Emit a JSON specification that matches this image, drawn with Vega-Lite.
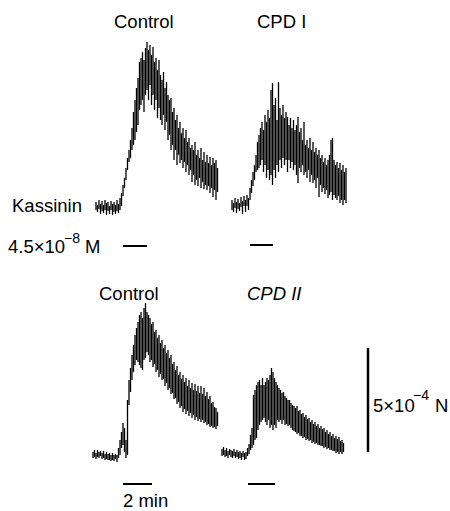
{
  "$schema": "https://vega.github.io/schema/vega-lite/v6.json",
  "width": 450,
  "height": 511,
  "autosize": {"type": "fit", "contains": "padding"},
  "padding": 0,
  "background": "white",
  "config": {"view": {"stroke": null}},
  "datasets": {
    "traces": [
      {"t":"A","x":96,"lo":202,"hi":210},{"t":"A","x":97.5,"lo":205,"hi":212},{"t":"A","x":99,"lo":200,"hi":209},{"t":"A","x":100.5,"lo":204,"hi":214},{"t":"A","x":102,"lo":201,"hi":211},{"t":"A","x":103.5,"lo":205,"hi":213},{"t":"A","x":105,"lo":200,"hi":210},{"t":"A","x":106.5,"lo":203,"hi":215},{"t":"A","x":108,"lo":202,"hi":211},{"t":"A","x":109.5,"lo":206,"hi":214},{"t":"A","x":111,"lo":201,"hi":210},{"t":"A","x":112.5,"lo":204,"hi":215},{"t":"A","x":114,"lo":202,"hi":212},{"t":"A","x":115.5,"lo":205,"hi":214},{"t":"A","x":117,"lo":200,"hi":211},{"t":"A","x":118.5,"lo":204,"hi":213},{"t":"A","x":120,"lo":198,"hi":210},{"t":"A","x":121.5,"lo":193,"hi":206},
      {"t":"A","x":123,"lo":185,"hi":196},{"t":"A","x":124.5,"lo":178,"hi":188},{"t":"A","x":126,"lo":168,"hi":180},{"t":"A","x":127.5,"lo":158,"hi":170},{"t":"A","x":129,"lo":150,"hi":162},{"t":"A","x":130.5,"lo":140,"hi":158},{"t":"A","x":132,"lo":128,"hi":150},{"t":"A","x":133.5,"lo":112,"hi":145},{"t":"A","x":135,"lo":100,"hi":140},{"t":"A","x":136.5,"lo":88,"hi":132},{"t":"A","x":138,"lo":78,"hi":125},{"t":"A","x":139.5,"lo":62,"hi":110},{"t":"A","x":141,"lo":58,"hi":105},{"t":"A","x":142.5,"lo":52,"hi":100},{"t":"A","x":144,"lo":60,"hi":112},{"t":"A","x":145.5,"lo":48,"hi":95},{"t":"A","x":147,"lo":42,"hi":90},{"t":"A","x":148.5,"lo":50,"hi":100},{"t":"A","x":150,"lo":45,"hi":85},{"t":"A","x":151.5,"lo":55,"hi":105},{"t":"A","x":153,"lo":47,"hi":95},{"t":"A","x":154.5,"lo":62,"hi":110},{"t":"A","x":156,"lo":58,"hi":100},{"t":"A","x":157.5,"lo":70,"hi":118},{"t":"A","x":159,"lo":60,"hi":108},{"t":"A","x":160.5,"lo":75,"hi":120},{"t":"A","x":162,"lo":80,"hi":125},{"t":"A","x":163.5,"lo":72,"hi":115},{"t":"A","x":165,"lo":88,"hi":130},{"t":"A","x":166.5,"lo":82,"hi":122},{"t":"A","x":168,"lo":95,"hi":140},{"t":"A","x":169.5,"lo":100,"hi":135},{"t":"A","x":171,"lo":98,"hi":150},{"t":"A","x":172.5,"lo":112,"hi":145},{"t":"A","x":174,"lo":108,"hi":160},{"t":"A","x":175.5,"lo":120,"hi":150},{"t":"A","x":177,"lo":115,"hi":165},{"t":"A","x":178.5,"lo":128,"hi":155},{"t":"A","x":180,"lo":122,"hi":163},{"t":"A","x":181.5,"lo":133,"hi":160},{"t":"A","x":183,"lo":128,"hi":168},{"t":"A","x":184.5,"lo":138,"hi":162},{"t":"A","x":186,"lo":130,"hi":172},{"t":"A","x":187.5,"lo":142,"hi":165},{"t":"A","x":189,"lo":138,"hi":175},{"t":"A","x":190.5,"lo":148,"hi":170},{"t":"A","x":192,"lo":145,"hi":182},{"t":"A","x":193.5,"lo":150,"hi":175},{"t":"A","x":195,"lo":142,"hi":185},{"t":"A","x":196.5,"lo":155,"hi":180},{"t":"A","x":198,"lo":150,"hi":186},{"t":"A","x":199.5,"lo":158,"hi":178},{"t":"A","x":201,"lo":148,"hi":188},{"t":"A","x":202.5,"lo":160,"hi":182},{"t":"A","x":204,"lo":152,"hi":189},{"t":"A","x":205.5,"lo":162,"hi":185},{"t":"A","x":207,"lo":155,"hi":190},{"t":"A","x":208.5,"lo":163,"hi":186},{"t":"A","x":210,"lo":157,"hi":193},{"t":"A","x":211.5,"lo":165,"hi":188},{"t":"A","x":213,"lo":158,"hi":197},{"t":"A","x":214.5,"lo":163,"hi":190},{"t":"A","x":216,"lo":160,"hi":200},{"t":"A","x":217.5,"lo":168,"hi":192},

      {"t":"B","x":232,"lo":200,"hi":210},{"t":"B","x":233.5,"lo":203,"hi":212},{"t":"B","x":235,"lo":198,"hi":208},{"t":"B","x":236.5,"lo":202,"hi":213},{"t":"B","x":238,"lo":199,"hi":209},{"t":"B","x":239.5,"lo":203,"hi":211},{"t":"B","x":241,"lo":197,"hi":207},{"t":"B","x":242.5,"lo":201,"hi":214},{"t":"B","x":244,"lo":196,"hi":206},{"t":"B","x":245.5,"lo":200,"hi":212},{"t":"B","x":247,"lo":195,"hi":206},{"t":"B","x":248.5,"lo":198,"hi":210},{"t":"B","x":250,"lo":188,"hi":200},{"t":"B","x":251.5,"lo":180,"hi":193},{"t":"B","x":253,"lo":172,"hi":186},{"t":"B","x":254.5,"lo":165,"hi":180},{"t":"B","x":256,"lo":155,"hi":172},{"t":"B","x":257.5,"lo":142,"hi":170},{"t":"B","x":259,"lo":135,"hi":168},{"t":"B","x":260.5,"lo":128,"hi":165},{"t":"B","x":262,"lo":122,"hi":160},{"t":"B","x":263.5,"lo":130,"hi":172},{"t":"B","x":265,"lo":115,"hi":165},{"t":"B","x":266.5,"lo":122,"hi":178},{"t":"B","x":268,"lo":110,"hi":170},{"t":"B","x":269.5,"lo":118,"hi":180},{"t":"B","x":271,"lo":90,"hi":175},{"t":"B","x":272.5,"lo":83,"hi":185},{"t":"B","x":274,"lo":105,"hi":170},{"t":"B","x":275.5,"lo":98,"hi":178},{"t":"B","x":277,"lo":120,"hi":165},{"t":"B","x":278.5,"lo":82,"hi":172},{"t":"B","x":280,"lo":108,"hi":160},{"t":"B","x":281.5,"lo":115,"hi":168},{"t":"B","x":283,"lo":105,"hi":158},{"t":"B","x":284.5,"lo":118,"hi":165},{"t":"B","x":286,"lo":112,"hi":160},{"t":"B","x":287.5,"lo":117,"hi":172},{"t":"B","x":289,"lo":125,"hi":160},{"t":"B","x":290.5,"lo":118,"hi":168},{"t":"B","x":292,"lo":128,"hi":162},{"t":"B","x":293.5,"lo":120,"hi":170},{"t":"B","x":295,"lo":130,"hi":165},{"t":"B","x":296.5,"lo":125,"hi":175},{"t":"B","x":298,"lo":117,"hi":183},{"t":"B","x":299.5,"lo":132,"hi":168},{"t":"B","x":301,"lo":128,"hi":172},{"t":"B","x":302.5,"lo":140,"hi":165},{"t":"B","x":304,"lo":122,"hi":175},{"t":"B","x":305.5,"lo":145,"hi":172},{"t":"B","x":307,"lo":140,"hi":178},{"t":"B","x":308.5,"lo":148,"hi":170},{"t":"B","x":310,"lo":138,"hi":182},{"t":"B","x":311.5,"lo":150,"hi":175},{"t":"B","x":313,"lo":142,"hi":183},{"t":"B","x":314.5,"lo":152,"hi":180},{"t":"B","x":316,"lo":148,"hi":188},{"t":"B","x":317.5,"lo":155,"hi":178},{"t":"B","x":319,"lo":150,"hi":197},{"t":"B","x":320.5,"lo":158,"hi":185},{"t":"B","x":322,"lo":155,"hi":192},{"t":"B","x":323.5,"lo":162,"hi":188},{"t":"B","x":325,"lo":158,"hi":194},{"t":"B","x":326.5,"lo":165,"hi":190},{"t":"B","x":328,"lo":160,"hi":198},{"t":"B","x":329.5,"lo":155,"hi":195},{"t":"B","x":331,"lo":140,"hi":192},{"t":"B","x":332.5,"lo":138,"hi":200},{"t":"B","x":334,"lo":160,"hi":195},{"t":"B","x":335.5,"lo":165,"hi":198},{"t":"B","x":337,"lo":162,"hi":200},{"t":"B","x":338.5,"lo":168,"hi":196},{"t":"B","x":340,"lo":163,"hi":203},{"t":"B","x":341.5,"lo":170,"hi":200},{"t":"B","x":343,"lo":165,"hi":205},{"t":"B","x":344.5,"lo":172,"hi":200},{"t":"B","x":346,"lo":168,"hi":203},

      {"t":"C","x":93,"lo":452,"hi":458},{"t":"C","x":94.5,"lo":450,"hi":457},{"t":"C","x":96,"lo":453,"hi":459},{"t":"C","x":97.5,"lo":450,"hi":457},{"t":"C","x":99,"lo":452,"hi":458},{"t":"C","x":100.5,"lo":451,"hi":456},{"t":"C","x":102,"lo":453,"hi":459},{"t":"C","x":103.5,"lo":451,"hi":458},{"t":"C","x":105,"lo":454,"hi":460},{"t":"C","x":106.5,"lo":452,"hi":459},{"t":"C","x":108,"lo":454,"hi":460},{"t":"C","x":109.5,"lo":453,"hi":460},{"t":"C","x":111,"lo":455,"hi":461},{"t":"C","x":112.5,"lo":453,"hi":460},{"t":"C","x":114,"lo":455,"hi":461},{"t":"C","x":115.5,"lo":454,"hi":459},{"t":"C","x":117,"lo":455,"hi":462},{"t":"C","x":118.5,"lo":448,"hi":458},{"t":"C","x":120,"lo":440,"hi":455},{"t":"C","x":121.5,"lo":432,"hi":448},{"t":"C","x":123,"lo":423,"hi":445},{"t":"C","x":124.5,"lo":428,"hi":452},{"t":"C","x":126,"lo":440,"hi":458},{"t":"C","x":127.5,"lo":400,"hi":455},{"t":"C","x":129,"lo":380,"hi":405},{"t":"C","x":130.5,"lo":368,"hi":392},{"t":"C","x":132,"lo":355,"hi":380},{"t":"C","x":133.5,"lo":345,"hi":372},{"t":"C","x":135,"lo":335,"hi":365},{"t":"C","x":136.5,"lo":328,"hi":360},{"t":"C","x":138,"lo":322,"hi":362},{"t":"C","x":139.5,"lo":315,"hi":365},{"t":"C","x":141,"lo":312,"hi":368},{"t":"C","x":142.5,"lo":318,"hi":370},{"t":"C","x":144,"lo":308,"hi":360},{"t":"C","x":145.5,"lo":303,"hi":358},{"t":"C","x":147,"lo":312,"hi":352},{"t":"C","x":148.5,"lo":315,"hi":355},{"t":"C","x":150,"lo":318,"hi":362},{"t":"C","x":151.5,"lo":324,"hi":360},{"t":"C","x":153,"lo":322,"hi":367},{"t":"C","x":154.5,"lo":332,"hi":364},{"t":"C","x":156,"lo":330,"hi":372},{"t":"C","x":157.5,"lo":338,"hi":370},{"t":"C","x":159,"lo":335,"hi":377},{"t":"C","x":160.5,"lo":343,"hi":374},{"t":"C","x":162,"lo":340,"hi":380},{"t":"C","x":163.5,"lo":348,"hi":379},{"t":"C","x":165,"lo":345,"hi":386},{"t":"C","x":166.5,"lo":353,"hi":383},{"t":"C","x":168,"lo":350,"hi":390},{"t":"C","x":169.5,"lo":358,"hi":388},{"t":"C","x":171,"lo":355,"hi":394},{"t":"C","x":172.5,"lo":364,"hi":393},{"t":"C","x":174,"lo":362,"hi":399},{"t":"C","x":175.5,"lo":370,"hi":398},{"t":"C","x":177,"lo":366,"hi":404},{"t":"C","x":178.5,"lo":375,"hi":402},{"t":"C","x":180,"lo":372,"hi":408},{"t":"C","x":181.5,"lo":379,"hi":406},{"t":"C","x":183,"lo":375,"hi":412},{"t":"C","x":184.5,"lo":382,"hi":409},{"t":"C","x":186,"lo":378,"hi":414},{"t":"C","x":187.5,"lo":386,"hi":411},{"t":"C","x":189,"lo":380,"hi":416},{"t":"C","x":190.5,"lo":388,"hi":413},{"t":"C","x":192,"lo":383,"hi":418},{"t":"C","x":193.5,"lo":390,"hi":415},{"t":"C","x":195,"lo":384,"hi":420},{"t":"C","x":196.5,"lo":391,"hi":417},{"t":"C","x":198,"lo":386,"hi":421},{"t":"C","x":199.5,"lo":393,"hi":419},{"t":"C","x":201,"lo":386,"hi":422},{"t":"C","x":202.5,"lo":394,"hi":420},{"t":"C","x":204,"lo":388,"hi":423},{"t":"C","x":205.5,"lo":396,"hi":422},{"t":"C","x":207,"lo":392,"hi":425},{"t":"C","x":208.5,"lo":399,"hi":424},{"t":"C","x":210,"lo":396,"hi":427},{"t":"C","x":211.5,"lo":403,"hi":426},{"t":"C","x":213,"lo":402,"hi":428},{"t":"C","x":214.5,"lo":407,"hi":427},{"t":"C","x":216,"lo":408,"hi":429},{"t":"C","x":217.5,"lo":412,"hi":426},

      {"t":"D","x":222,"lo":449,"hi":456},{"t":"D","x":223.5,"lo":447,"hi":455},{"t":"D","x":225,"lo":450,"hi":457},{"t":"D","x":226.5,"lo":448,"hi":456},{"t":"D","x":228,"lo":451,"hi":458},{"t":"D","x":229.5,"lo":449,"hi":455},{"t":"D","x":231,"lo":450,"hi":457},{"t":"D","x":232.5,"lo":451,"hi":458},{"t":"D","x":234,"lo":449,"hi":456},{"t":"D","x":235.5,"lo":452,"hi":458},{"t":"D","x":237,"lo":450,"hi":457},{"t":"D","x":238.5,"lo":452,"hi":459},{"t":"D","x":240,"lo":451,"hi":458},{"t":"D","x":241.5,"lo":453,"hi":460},{"t":"D","x":243,"lo":451,"hi":457},{"t":"D","x":244.5,"lo":453,"hi":460},{"t":"D","x":246,"lo":452,"hi":459},{"t":"D","x":247.5,"lo":448,"hi":456},{"t":"D","x":249,"lo":444,"hi":454},{"t":"D","x":250.5,"lo":435,"hi":450},{"t":"D","x":252,"lo":428,"hi":448},{"t":"D","x":253.5,"lo":395,"hi":445},{"t":"D","x":255,"lo":390,"hi":440},{"t":"D","x":256.5,"lo":385,"hi":438},{"t":"D","x":258,"lo":382,"hi":430},{"t":"D","x":259.5,"lo":380,"hi":425},{"t":"D","x":261,"lo":385,"hi":422},{"t":"D","x":262.5,"lo":378,"hi":420},{"t":"D","x":264,"lo":385,"hi":418},{"t":"D","x":265.5,"lo":382,"hi":422},{"t":"D","x":267,"lo":378,"hi":425},{"t":"D","x":268.5,"lo":380,"hi":420},{"t":"D","x":270,"lo":375,"hi":428},{"t":"D","x":271.5,"lo":368,"hi":425},{"t":"D","x":273,"lo":372,"hi":430},{"t":"D","x":274.5,"lo":378,"hi":425},{"t":"D","x":276,"lo":382,"hi":428},{"t":"D","x":277.5,"lo":385,"hi":420},{"t":"D","x":279,"lo":388,"hi":422},{"t":"D","x":280.5,"lo":390,"hi":420},{"t":"D","x":282,"lo":393,"hi":424},{"t":"D","x":283.5,"lo":392,"hi":420},{"t":"D","x":285,"lo":396,"hi":425},{"t":"D","x":286.5,"lo":398,"hi":424},{"t":"D","x":288,"lo":400,"hi":426},{"t":"D","x":289.5,"lo":400,"hi":425},{"t":"D","x":291,"lo":403,"hi":428},{"t":"D","x":292.5,"lo":405,"hi":430},{"t":"D","x":294,"lo":406,"hi":431},{"t":"D","x":295.5,"lo":408,"hi":432},{"t":"D","x":297,"lo":406,"hi":434},{"t":"D","x":298.5,"lo":411,"hi":433},{"t":"D","x":300,"lo":410,"hi":436},{"t":"D","x":301.5,"lo":414,"hi":436},{"t":"D","x":303,"lo":413,"hi":438},{"t":"D","x":304.5,"lo":417,"hi":437},{"t":"D","x":306,"lo":415,"hi":440},{"t":"D","x":307.5,"lo":419,"hi":439},{"t":"D","x":309,"lo":418,"hi":441},{"t":"D","x":310.5,"lo":422,"hi":440},{"t":"D","x":312,"lo":420,"hi":443},{"t":"D","x":313.5,"lo":424,"hi":442},{"t":"D","x":315,"lo":422,"hi":444},{"t":"D","x":316.5,"lo":426,"hi":443},{"t":"D","x":318,"lo":424,"hi":445},{"t":"D","x":319.5,"lo":428,"hi":445},{"t":"D","x":321,"lo":426,"hi":446},{"t":"D","x":322.5,"lo":429,"hi":446},{"t":"D","x":324,"lo":428,"hi":448},{"t":"D","x":325.5,"lo":432,"hi":447},{"t":"D","x":327,"lo":430,"hi":449},{"t":"D","x":328.5,"lo":434,"hi":448},{"t":"D","x":330,"lo":432,"hi":450},{"t":"D","x":331.5,"lo":436,"hi":450},{"t":"D","x":333,"lo":434,"hi":451},{"t":"D","x":334.5,"lo":438,"hi":451},{"t":"D","x":336,"lo":436,"hi":453},{"t":"D","x":337.5,"lo":439,"hi":452},{"t":"D","x":339,"lo":437,"hi":454},{"t":"D","x":340.5,"lo":441,"hi":452},{"t":"D","x":342,"lo":440,"hi":454},{"t":"D","x":343.5,"lo":443,"hi":452}
    ],
    "bars": [
      {"kind":"stim","x":123,"x2":147,"y":246,"y2":246},
      {"kind":"stim","x":250,"x2":273,"y":245,"y2":245},
      {"kind":"stim","x":123,"x2":152,"y":484,"y2":484},
      {"kind":"stim","x":248,"x2":275,"y":484,"y2":484},
      {"kind":"scale","x":368,"x2":368,"y":348,"y2":452}
    ],
    "labels": [
      {"kind":"main","x":114,"y":28,"label":"Control"},
      {"kind":"main","x":257,"y":28,"label":"CPD I"},
      {"kind":"main","x":12,"y":212,"label":"Kassinin"},
      {"kind":"main","x":8,"y":253,"label":"4.5×10"},
      {"kind":"sup","x":64,"y":243,"label":"−8"},
      {"kind":"main","x":85,"y":253,"label":"M"},
      {"kind":"main","x":99,"y":300,"label":"Control"},
      {"kind":"italic","x":247,"y":300,"label":"CPD II"},
      {"kind":"main","x":123,"y":507,"label":"2 min"},
      {"kind":"main","x":373,"y":412,"label":"5×10"},
      {"kind":"sup","x":413,"y":400,"label":"−4"},
      {"kind":"main","x":435,"y":412,"label":"N"}
    ]
  },
  "layer": [
    {
      "data": {"name": "traces"},
      "mark": {"type": "rule", "color": "#000", "strokeWidth": 1.3},
      "encoding": {
        "x": {"field": "x", "type": "quantitative", "scale": {"domain": [0, 450], "nice": false, "zero": false}, "axis": null},
        "y": {"field": "lo", "type": "quantitative", "scale": {"domain": [0, 511], "nice": false, "zero": false, "reverse": true}, "axis": null},
        "y2": {"field": "hi"}
      }
    },
    {
      "data": {"name": "bars"},
      "transform": [{"filter": "datum.kind === 'stim'"}],
      "mark": {"type": "rule", "color": "#000", "strokeWidth": 2},
      "encoding": {
        "x": {"field": "x", "type": "quantitative"},
        "x2": {"field": "x2"},
        "y": {"field": "y", "type": "quantitative"},
        "y2": {"field": "y2"}
      }
    },
    {
      "data": {"name": "bars"},
      "transform": [{"filter": "datum.kind === 'scale'"}],
      "mark": {"type": "rule", "color": "#000", "strokeWidth": 2.5},
      "encoding": {
        "x": {"field": "x", "type": "quantitative"},
        "x2": {"field": "x2"},
        "y": {"field": "y", "type": "quantitative"},
        "y2": {"field": "y2"}
      }
    },
    {
      "data": {"name": "labels"},
      "transform": [{"filter": "datum.kind === 'main'"}],
      "mark": {"type": "text", "font": "Liberation Sans", "fontSize": 18.5, "align": "left", "baseline": "alphabetic", "color": "#000"},
      "encoding": {
        "x": {"field": "x", "type": "quantitative"},
        "y": {"field": "y", "type": "quantitative"},
        "text": {"field": "label"}
      }
    },
    {
      "data": {"name": "labels"},
      "transform": [{"filter": "datum.kind === 'italic'"}],
      "mark": {"type": "text", "font": "Liberation Sans", "fontSize": 18.5, "fontStyle": "italic", "align": "left", "baseline": "alphabetic", "color": "#000"},
      "encoding": {
        "x": {"field": "x", "type": "quantitative"},
        "y": {"field": "y", "type": "quantitative"},
        "text": {"field": "label"}
      }
    },
    {
      "data": {"name": "labels"},
      "transform": [{"filter": "datum.kind === 'sup'"}],
      "mark": {"type": "text", "font": "Liberation Sans", "fontSize": 14, "align": "left", "baseline": "alphabetic", "color": "#000"},
      "encoding": {
        "x": {"field": "x", "type": "quantitative"},
        "y": {"field": "y", "type": "quantitative"},
        "text": {"field": "label"}
      }
    }
  ]
}
